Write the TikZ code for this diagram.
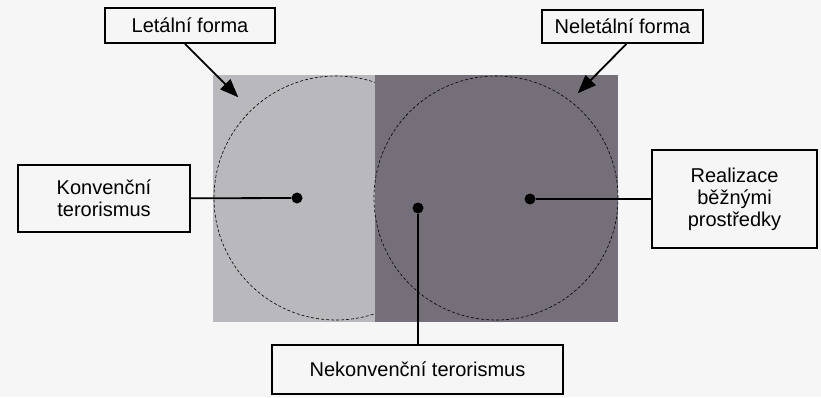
\documentclass[tikz,border=0pt]{standalone}
\usepackage{fontspec}
\setmainfont{Liberation Sans}
\usetikzlibrary{arrows.meta}
\definecolor{papir}{RGB}{246,246,246}
\definecolor{svetla}{RGB}{184,184,189}
\definecolor{tmava}{RGB}{117,111,122}
\tikzset{tbox/.style={draw, rectangle, align=center, line width=1.6pt, inner sep=0pt, font=\fontsize{20}{22}\selectfont},
  bod/.style={circle, fill=black, inner sep=0pt, minimum size=11pt},
  kruh/.style={dash pattern=on 3pt off 2pt, line width=0.6pt},
  spoj/.style={line width=1.8pt},
  sipka/.style={spoj, -{Triangle[length=18pt,width=14pt]}}}

\begin{document}
\begin{tikzpicture}[x=1pt,y=1pt]
\fill[papir] (0,0) rectangle (821,-397);
\useasboundingbox (0,0) rectangle (821,-397);
% plochy a kruhy
\fill[svetla] (213,-75) rectangle (375,-322);
\draw[kruh] (336,-198) circle (122pt);
\fill[tmava] (375,-75) rectangle (618,-322);
\draw[kruh] (496,-198) circle (122pt);
% popisky
\node[tbox, minimum width=170pt, minimum height=35pt] (letal) at (190,-25.5) {Letální forma};
\node[tbox, minimum width=161pt, minimum height=33pt] (neletal) at (622.5,-26.5) {Neletální forma};
\node[tbox, minimum width=172pt, minimum height=67pt] (konv) at (104,-198.5) {Konvenční\\terorismus};
\node[tbox, minimum width=165pt, minimum height=98pt] (real) at (734.5,-199) {Realizace\\běžnými\\prostředky};
\node[tbox, minimum width=291pt, minimum height=49pt] (nekonv) at (417.5,-369.5) {Nekonvenční terorismus};
% body
\node[bod] (d1) at (297,-198) {};
\node[bod] (d2) at (418,-208) {};
\node[bod] (d3) at (530,-199) {};
\coordinate (t1) at (238,-97);
\coordinate (t2) at (578,-93);
% spojnice
\draw[spoj] (konv) -- (d1);
\draw[spoj] (d3) -- (real);
\draw[spoj] (d2) -- (d2 |- nekonv.north);
\draw[sipka] ([xshift=-5pt]letal.south) -- (t1);
\draw[sipka] ([xshift=4pt]neletal.south) -- (t2);
% hroty
\fill (t1) -- (220.4,-89.1) -- (230.4,-79.3) -- cycle;
\fill (t2) -- (585.5,-75.2) -- (595.5,-85.0) -- cycle;
\end{tikzpicture}
\end{document}
